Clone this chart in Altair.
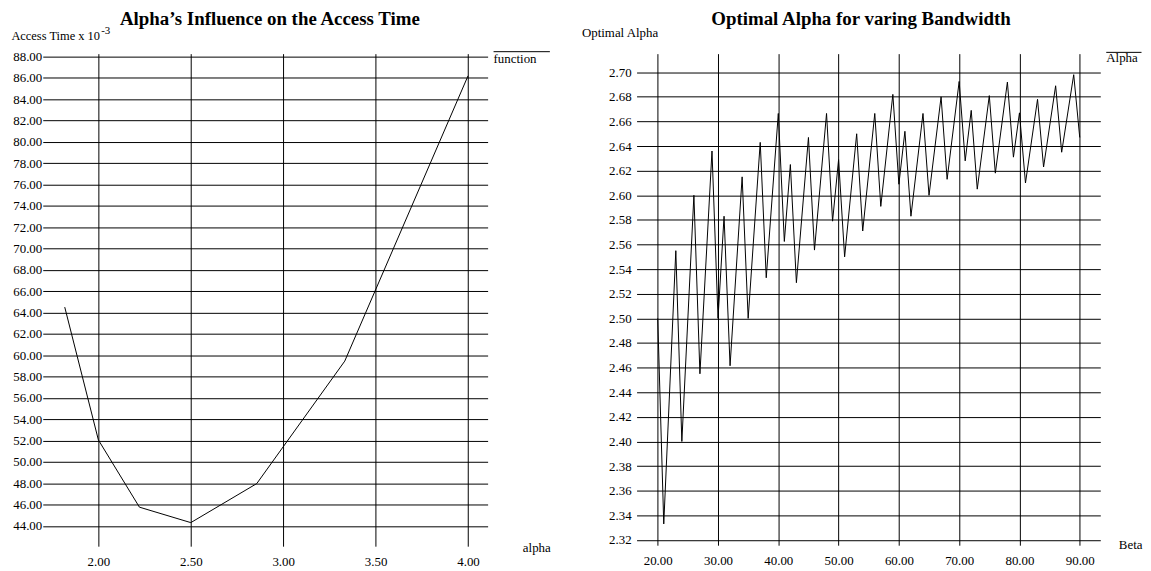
import altair as alt
import pandas as pd

FONT = "Liberation Serif"

# ---- left chart data ----
alpha_vals = [1.818, 2.0, 2.222, 2.5, 2.857, 3.333, 4.0]
access_time = [64.52, 52.07, 45.77, 44.32, 47.98, 59.46, 86.2]
left_x_ticks = [2.0, 2.5, 3.0, 3.5, 4.0]
left_y_ticks = [44, 46, 48, 50, 52, 54, 56, 58, 60, 62, 64, 66, 68, 70, 72, 74,
                76, 78, 80, 82, 84, 86, 88]

# ---- right chart data ----
beta_vals = [20, 21, 23, 24, 26, 27, 29, 30, 31, 32, 34, 35, 37, 38, 40, 41, 42, 43,
             45, 46, 48, 49, 50, 51, 53, 54, 56, 57, 59, 60, 61, 62, 64, 65, 67, 68,
             70, 71, 72, 73, 75, 76, 78, 79, 80, 81, 83, 84, 86, 87, 89, 90]
opt_alpha = [2.500, 2.333, 2.555, 2.400, 2.600, 2.455, 2.636, 2.500, 2.583, 2.4615,
             2.615, 2.500, 2.643, 2.533, 2.6665, 2.5625, 2.625, 2.529, 2.647, 2.5555,
             2.6665, 2.579, 2.629, 2.550, 2.650, 2.571, 2.6665, 2.591, 2.682, 2.609,
             2.652, 2.583, 2.6665, 2.600, 2.680, 2.613, 2.6925, 2.628, 2.669, 2.605,
             2.681, 2.618, 2.692, 2.631, 2.667, 2.610, 2.678, 2.623, 2.689, 2.635,
             2.698, 2.647]
right_x_ticks = [20, 30, 40, 50, 60, 70, 80, 90]
right_y_ticks = [2.32, 2.34, 2.36, 2.38, 2.40, 2.42, 2.44, 2.46, 2.48, 2.50, 2.52,
                 2.54, 2.56, 2.58, 2.60, 2.62, 2.64, 2.66, 2.68, 2.70]

left_df = pd.DataFrame({"alpha": alpha_vals, "time": access_time})
right_df = pd.DataFrame({"beta": beta_vals, "opt": opt_alpha})


def make_axis(values, pad):
    return alt.Axis(values=values, format=".2f", grid=True, gridColor="black",
                    gridWidth=1, gridOpacity=1, domain=False, ticks=False, tickSize=0,
                    labelFont=FONT, labelFontSize=13, labelColor="black",
                    labelPadding=pad, labelFlush=False, labelOverlap=False, title="")


def txt(s, x, y, size=13, weight="normal", align="left"):
    return alt.Chart(pd.DataFrame({"t": [s]})).mark_text(
        align=align, baseline="alphabetic", font=FONT, fontSize=size,
        fontWeight=weight, color="black"
    ).encode(x=alt.value(x), y=alt.value(y), text="t:N")


def hrule(x1, x2, y, opacity=1):
    return alt.Chart(pd.DataFrame({"t": [0]})).mark_rule(
        color="black", strokeWidth=1, strokeOpacity=opacity
    ).encode(x=alt.value(x1), x2=alt.value(x2), y=alt.value(y))


# ---- left panel ----
left_line = alt.Chart(left_df).mark_line(color="black", strokeWidth=1).encode(
    x=alt.X("alpha:Q", scale=alt.Scale(domain=[1.699, 4.106], nice=False, zero=False),
            axis=make_axis(left_x_ticks, 9)),
    y=alt.Y("time:Q", scale=alt.Scale(domain=[42.11, 88.28], nice=False, zero=False),
            axis=make_axis(left_y_ticks, 1)),
)

left = alt.layer(
    hrule(-35, -35, -43.5, opacity=0),
    left_line,
    txt("Alpha\u2019s Influence on the Access Time", 228.7, -29, size=19,
        weight="bold", align="center"),
    txt("Access Time x 10", -31.6, -13.7, size=12.5),
    txt("-3", 58.8, -19.5, size=11),
    hrule(454, 510.7, -2),
    txt("function", 454, 9),
    txt("alpha", 483.5, 501.4),
).properties(width=448, height=496)

# ---- right panel ----
right_line = alt.Chart(right_df).mark_line(color="black", strokeWidth=1).encode(
    x=alt.X("beta:Q", scale=alt.Scale(domain=[16.49, 93.41], nice=False, zero=False),
            axis=make_axis(right_x_ticks, 9)),
    y=alt.Y("opt:Q", scale=alt.Scale(domain=[2.31572, 2.71509], nice=False, zero=False),
            axis=make_axis(right_y_ticks, 5.5)),
)

right = alt.layer(
    right_line,
    txt("Optimal Alpha for varing Bandwidth", 226, -29, size=19,
        weight="bold", align="center"),
    txt("Optimal Alpha", -55, -16.3),
    hrule(473, 508.5, -1.3),
    txt("Alpha", 473, 8),
    txt("Beta", 485.7, 498.7),
).properties(width=467, height=495)

chart = alt.hconcat(left, right, spacing=150, bounds="flush").properties(
    padding={"left": 0, "top": 0, "right": 0, "bottom": 0},
    background="white",
).configure_view(strokeWidth=0)

chart.save("out.html", embed_options={"renderer": "svg", "actions": False})
